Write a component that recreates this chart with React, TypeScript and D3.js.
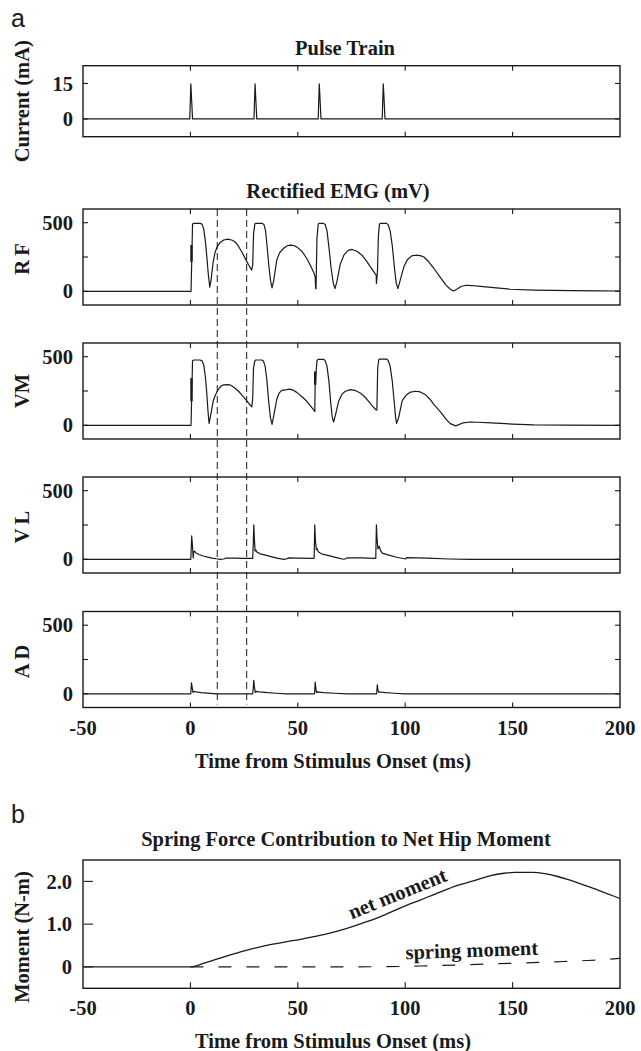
import React from "react";
import * as d3 from "d3";

type P = [number, number];

// ---------- data ----------
const xTicks = [-50, 0, 50, 100, 150, 200];
const innerXTicks = [0, 50, 100, 150];
const emgTicks = [0, 250, 500];
const emgTickLabels = [0, 500];
const pulseTicks = [0, 15];
const momentTicks = [0, 1, 2];
const momentTickLabels = ["0", "1.0", "2.0"];
const dashedTimes = [12.5, 26.2];

const pulseOnsets = [0, 29.9, 59.8, 89.6];
const pulseAmp = 15;

const rfData: P[] = [
  [-50, 0], [0.3, 0], [1.0, 490], [1.6, 495], [4.5, 495], [5.4, 490], [6.2, 455], [7.0, 360], [7.6, 260],
  [8.3, 130], [9.0, 30], [9.6, 80], [10.6, 215], [11.5, 285], [12.5, 325], [14, 358], [15.5, 374],
  [17.5, 380], [19.5, 372], [21, 358], [22.5, 325], [24, 285], [25.5, 240], [27, 195], [28.5, 154],
  [29.0, 190], [29.4, 420], [30.0, 490], [30.4, 495], [33.5, 495], [34.3, 485], [35.0, 440], [35.7, 330],
  [36.5, 190], [37.3, 80], [38.0, 24], [38.8, 80], [40.2, 227], [41.5, 280], [43.3, 312], [45, 332],
  [46.5, 337], [48, 334], [49.5, 324], [52, 290], [54.2, 239], [56, 185], [57.3, 141], [58.1, 105],
  [58.3, 20], [58.5, 20], [58.9, 380], [59.5, 490], [60.0, 495], [62.0, 495], [62.8, 485], [63.6, 440],
  [64.5, 320], [65.5, 170], [66.5, 60], [67.3, 20], [68.2, 70], [69.8, 200], [71.5, 265], [73.5, 298],
  [75.3, 305], [77.5, 292], [79.9, 263], [82, 220], [83.8, 178], [85.5, 140], [86.5, 117], [86.6, 56],
  [87.1, 150], [87.5, 400], [88.0, 490], [88.5, 495], [91.3, 495], [92.1, 485], [93, 440], [94, 330],
  [95, 170], [95.8, 60], [96.6, 20], [97.5, 70], [99.4, 180], [101, 230], [103, 258], [104.9, 263],
  [107, 260], [108.7, 250], [111, 215], [113.4, 166], [116.5, 98], [119, 45], [121, 15], [122.5, 2],
  [124, 15], [126, 35], [128.3, 44], [131, 42], [135, 36], [140, 28], [149, 15], [160, 9], [177.7, 5],
  [190, 3], [200, 2],
];
const rfArtifacts: P[][] = [[[0.5, 215], [0.5, 337]]];

const vmData: P[] = [
  [-50, 0], [0.3, 0], [1.0, 470], [1.6, 476], [4.5, 476], [5.4, 470], [6.2, 440], [7.0, 350], [7.6, 240],
  [8.2, 100], [8.7, 14], [9.4, 70], [10.6, 175], [11.5, 215], [12.5, 248], [13.5, 272], [14.5, 288],
  [15.5, 295], [17, 297], [18.4, 295], [19.5, 285], [20.7, 272], [22.3, 250], [23.8, 224], [25.5, 193],
  [27, 163], [28, 144], [28.6, 135], [29.0, 200], [29.4, 420], [30.0, 470], [30.4, 476], [33.2, 476],
  [34, 468], [34.8, 430], [35.6, 330], [36.4, 180], [37.2, 60], [38.0, 7], [38.8, 70], [40.2, 188],
  [41.3, 235], [42.5, 255], [44.9, 260], [46.4, 264], [48, 255], [49.5, 240], [52, 208], [54.2, 175],
  [56, 140], [57.3, 115], [57.9, 100], [58.1, 300], [58.9, 470], [59.4, 481], [62, 481], [62.8, 470],
  [63.6, 430], [64.5, 320], [65.3, 170], [66.0, 60], [66.7, 24], [67.6, 80], [69, 175], [70.5, 225],
  [72.1, 248], [74.5, 260], [76.5, 255], [79.1, 236], [81, 210], [83, 175], [84.8, 140], [86.2, 115],
  [86.8, 110], [87.2, 420], [87.7, 478], [88.2, 483], [91.3, 483], [92.1, 472], [93, 430], [94, 320],
  [95, 150], [95.5, 60], [96, 14], [97, 60], [98.6, 180], [100.5, 220], [102.5, 242], [104.9, 248],
  [107, 243], [109.5, 222], [111.5, 190], [113.4, 151], [116.5, 96], [119, 45], [121, 12], [123.5, -4],
  [125, 5], [127, 18], [130, 24], [134, 22], [140, 17], [150, 9], [160, 3], [175, 1], [200, 0],
];
const vmArtifacts: P[][] = [
  [[0.5, 175], [0.5, 344]],
  [[58.1, 296], [58.1, 392]],
];

const vlData: P[] = [
  [-50, 0], [0.2, 0], [0.6, 170], [1.0, 90], [1.3, 10], [1.6, 55], [2.0, 60], [2.5, 48], [4, 35], [6, 24],
  [8, 16], [10, 9], [12, 4], [14, 0], [15.5, 2], [16.5, 9], [20, 9], [25, 7], [29.0, 6], [29.3, 120],
  [29.5, 251], [29.8, 150], [30.1, 60], [30.5, 68], [31.0, 52], [32.5, 40], [35, 30], [38, 18], [40.8, 7],
  [43.6, 0], [45, 4], [45.5, 10], [50, 9], [56.9, 7], [57.6, 7], [57.9, 251], [58.2, 140], [58.6, 70],
  [59.0, 78], [59.5, 55], [61, 40], [64, 28], [68, 12], [71.2, 0], [72.5, 5], [73.1, 11], [80, 10],
  [85.5, 7], [86.3, 7], [86.6, 251], [86.9, 150], [87.3, 75], [87.9, 95], [88.5, 65], [89.3, 45], [92, 32],
  [96, 15], [99.7, 4], [100.3, 2], [100.7, 12], [110, 8], [120.7, 2], [130, 0], [200, 0],
];

const adData: P[] = [
  [-50, 0], [0.2, 0], [0.5, 80], [0.9, 40], [1.2, 10], [1.6, 17], [2.5, 14], [5, 9], [8, 5], [12, 0],
  [29.0, 0], [29.3, 50], [29.5, 98], [29.8, 50], [30.2, 10], [30.8, 17], [32, 14], [36, 8], [40, 4],
  [44.6, 0], [57.8, 0], [58.1, 85], [58.4, 40], [58.7, 10], [59.2, 14], [62, 9], [67, 4], [73, 0],
  [86.7, 0], [87.0, 66], [87.3, 30], [87.7, 10], [88.2, 13], [91, 8], [95, 4], [99.7, 0], [200, 0],
];

const netMoment: P[] = [
  [-50, 0], [0, 0], [6.5, 0.09], [16, 0.24], [25.5, 0.38], [35, 0.5], [48.4, 0.62], [59.8, 0.73],
  [69.3, 0.85], [78.8, 1.0], [88.3, 1.17], [97.8, 1.38], [107.3, 1.57], [116.2, 1.75], [124, 1.9],
  [131.7, 2.01], [139.4, 2.13], [146, 2.19], [151, 2.21], [159.5, 2.21], [165, 2.18], [170.5, 2.12],
  [176, 2.04], [181.4, 1.95], [190, 1.79], [200, 1.6],
];
const springMoment: P[] = [
  [0, 0], [50, 0], [90, 0.005], [110, 0.025], [130, 0.055], [150, 0.085], [170, 0.12], [185, 0.15], [200, 0.2],
];

// ---------- layout ----------
const W = 641;
const H = 1051;
const LEFT = 83;
const RIGHT = 620;
const FONT = "'Liberation Serif', 'Times New Roman', serif";
const INK = "#1a1a1a";

const x = d3.scaleLinear().domain([-50, 200]).range([LEFT, RIGHT]);

function pulseSeries(): P[] {
  const pts: P[] = [[-50, 0]];
  pulseOnsets.forEach((t) => {
    pts.push([t - 0.3, 0], [t + 0.2, pulseAmp], [t + 1.0, 0]);
  });
  pts.push([200, 0]);
  return pts;
}

function Txt(props: any) {
  const { children, size = 20.5, weight = "bold", family = FONT, ...rest } = props;
  return (
    <text fontFamily={family} fontSize={size} fontWeight={weight} fill={INK} {...rest}>
      {children}
    </text>
  );
}

function Box({ top, bottom, xTop = true, xBottom = true, yTicks, y, tickLen = 5, right = true }: any) {
  return (
    <g>
      <rect x={LEFT} y={top} width={RIGHT - LEFT} height={bottom - top} fill="none" stroke={INK} strokeWidth={1.4} />
      {innerXTicks.map((t) => (
        <g key={"xt" + t}>
          {xTop && <line x1={x(t)} x2={x(t)} y1={top} y2={top + 5} stroke={INK} strokeWidth={1.1} />}
          {xBottom && <line x1={x(t)} x2={x(t)} y1={bottom} y2={bottom - 5} stroke={INK} strokeWidth={1.1} />}
        </g>
      ))}
      {yTicks.map((v: number) => (
        <g key={"yt" + v}>
          <line x1={LEFT} x2={LEFT + tickLen} y1={y(v)} y2={y(v)} stroke={INK} strokeWidth={1.1} />
          {right && <line x1={RIGHT} x2={RIGHT - tickLen} y1={y(v)} y2={y(v)} stroke={INK} strokeWidth={1.1} />}
        </g>
      ))}
    </g>
  );
}

function EmgPanel({ top, data, artifacts, label, labelSpacing }: any) {
  const bottom = top + 96;
  const y = d3.scaleLinear().domain([-100, 600]).range([bottom, top]);
  const line = d3.line<P>().x((d) => x(d[0])).y((d) => y(d[1]));
  const cy = (top + bottom) / 2;
  return (
    <g>
      <Box top={top} bottom={bottom} yTicks={emgTicks} y={y} />
      <path d={line(data) || ""} fill="none" stroke={INK} strokeWidth={1.2} strokeLinejoin="round" />
      {(artifacts || []).map((a: P[], i: number) => (
        <path key={i} d={line(a) || ""} fill="none" stroke={INK} strokeWidth={2.4} />
      ))}
      {emgTickLabels.map((v) => (
        <Txt key={v} x={73} y={y(v)} dy="0.35em" textAnchor="end">{v}</Txt>
      ))}
      <Txt transform={`translate(22,${cy}) rotate(-90)`} textAnchor="middle" dy="0.35em" letterSpacing={labelSpacing || 0}>
        {label}
      </Txt>
    </g>
  );
}

export default function App() {
  // pulse panel
  const pTop = 65.7;
  const pBottom = 136.7;
  const yP = d3.scaleLinear().domain([-7.5, 22.5]).range([pBottom, pTop]);
  const lineP = d3.line<P>().x((d) => x(d[0])).y((d) => yP(d[1]));

  const emgTops = [209, 343, 477, 611.5];
  const adBottom = emgTops[3] + 96;

  // moment panel
  const bTop = 860;
  const bBottom = 988.3;
  const yB = d3.scaleLinear().domain([-0.5, 2.5]).range([bBottom, bTop]);
  const lineB = d3.line<P>().x((d) => x(d[0])).y((d) => yB(d[1])).curve(d3.curveMonotoneX);

  return (
    <svg width={W} height={H} style={{ position: "absolute", left: 0, top: 0, background: "#fff" }}>
      <rect x={0} y={0} width={W} height={H} fill="#fff" />

      {/* panel a */}
      <Txt x={11} y={27} size={25} weight="normal" family="'Liberation Sans', Arial, sans-serif">a</Txt>
      <Txt x={345} y={55} textAnchor="middle">Pulse Train</Txt>
      <Box top={pTop} bottom={pBottom} yTicks={pulseTicks} y={yP} />
      <path d={lineP(pulseSeries()) || ""} fill="none" stroke={INK} strokeWidth={1.2} />
      {pulseTicks.map((v) => (
        <Txt key={v} x={73} y={yP(v)} dy="0.35em" textAnchor="end">{v}</Txt>
      ))}
      <Txt transform={`translate(22,${(pTop + pBottom) / 2}) rotate(-90)`} textAnchor="middle" dy="0.35em">
        Current (mA)
      </Txt>

      <Txt x={338} y={198} textAnchor="middle">Rectified EMG (mV)</Txt>
      <EmgPanel top={emgTops[0]} data={rfData} artifacts={rfArtifacts} label="RF" labelSpacing={4} />
      <EmgPanel top={emgTops[1]} data={vmData} artifacts={vmArtifacts} label="VM" />
      <EmgPanel top={emgTops[2]} data={vlData} label="VL" labelSpacing={4} />
      <EmgPanel top={emgTops[3]} data={adData} label="AD" labelSpacing={4} />

      {dashedTimes.map((t) => (
        <line key={t} x1={x(t)} x2={x(t)} y1={emgTops[0]} y2={adBottom - 3} stroke={INK} strokeWidth={1} strokeDasharray="7,4" />
      ))}

      {xTicks.map((t) => (
        <Txt key={"xa" + t} x={x(t)} y={735} textAnchor="middle">{t}</Txt>
      ))}
      <Txt x={333} y={768} textAnchor="middle">Time from Stimulus Onset (ms)</Txt>

      {/* panel b */}
      <Txt x={11} y={823} size={25} weight="normal" family="'Liberation Sans', Arial, sans-serif">b</Txt>
      <Txt x={346} y={846} textAnchor="middle">Spring Force Contribution to Net Hip Moment</Txt>
      <rect x={LEFT} y={bTop} width={RIGHT - LEFT} height={bBottom - bTop} fill="none" stroke={INK} strokeWidth={1.4} />
      {innerXTicks.map((t) => (
        <line key={"bx" + t} x1={x(t)} x2={x(t)} y1={bBottom} y2={bBottom - 6} stroke={INK} strokeWidth={1.1} />
      ))}
      {momentTicks.map((v) => (
        <line key={"by" + v} x1={LEFT + 1} x2={LEFT + 10} y1={yB(v)} y2={yB(v)} stroke={INK} strokeWidth={1.1} />
      ))}
      <path d={lineB(netMoment) || ""} fill="none" stroke={INK} strokeWidth={1.3} />
      <path d={lineB(springMoment) || ""} fill="none" stroke={INK} strokeWidth={1.2} strokeDasharray="13,15" />
      {momentTicks.map((v, i) => (
        <Txt key={"bl" + v} x={72} y={yB(v)} dy="0.35em" textAnchor="end">{momentTickLabels[i]}</Txt>
      ))}
      <Txt transform={`translate(22,937) rotate(-90)`} textAnchor="middle" dy="0.35em">Moment (N-m)</Txt>
      <Txt transform={`translate(400,900) rotate(-22)`} textAnchor="middle">net moment</Txt>
      <Txt transform={`translate(472,957) rotate(-2)`} textAnchor="middle">spring moment</Txt>

      {xTicks.map((t) => (
        <Txt key={"xb" + t} x={x(t)} y={1015} textAnchor="middle">{t}</Txt>
      ))}
      <Txt x={333} y={1048} textAnchor="middle">Time from Stimulus Onset (ms)</Txt>
    </svg>
  );
}
